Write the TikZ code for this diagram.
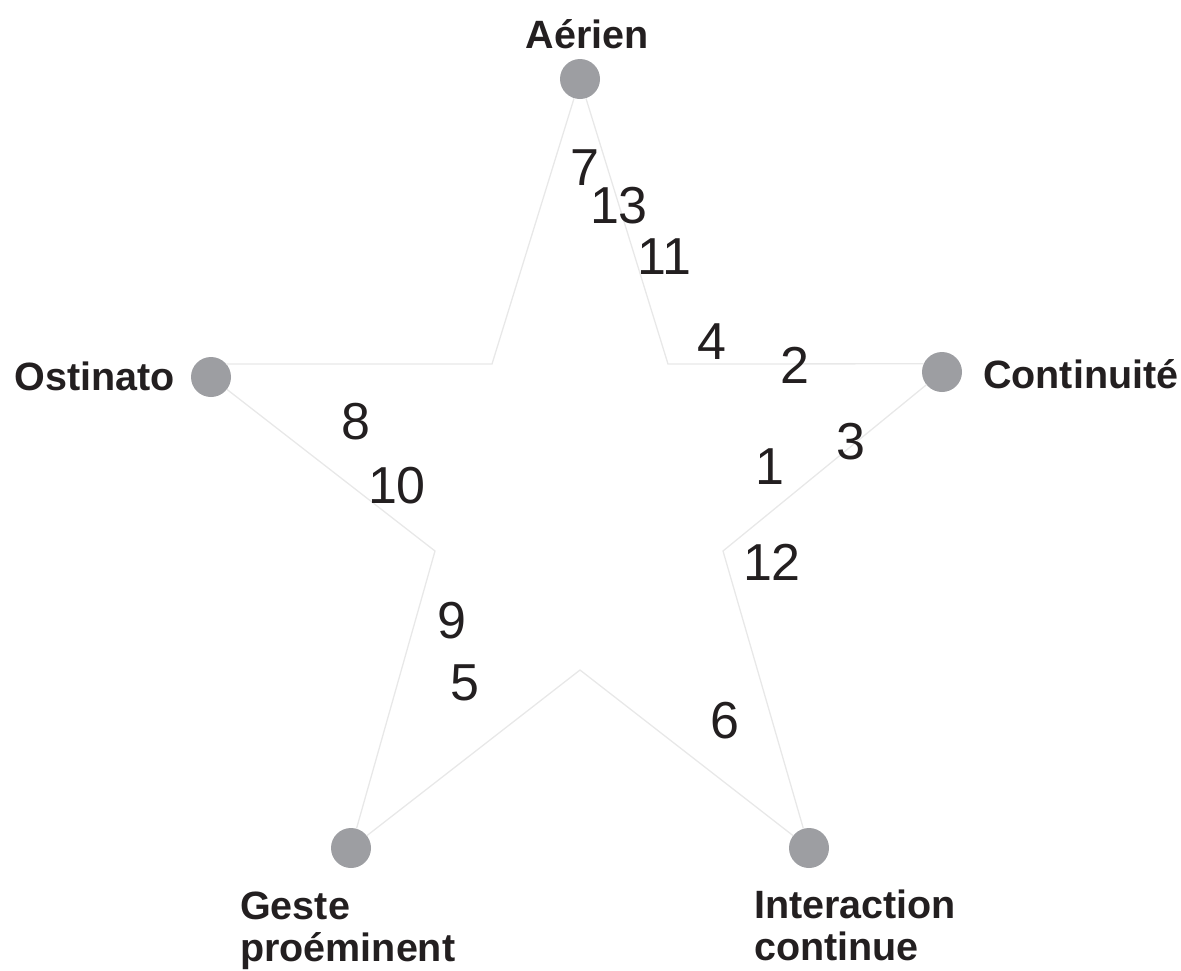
\documentclass[tikz,border=0pt]{standalone}
\usepackage{fontspec}
\setmainfont{Liberation Sans}
\usetikzlibrary{positioning,calc}
\definecolor{dotgrey}{RGB}{157,158,162}
\definecolor{edgegrey}{RGB}{232,232,232}
\definecolor{txtdark}{RGB}{35,31,32}
\tikzset{
  pole/.style={circle,fill=dotgrey,minimum size=40pt,inner sep=0pt},
  edge/.style={draw=edgegrey,line width=1.3pt,line join=miter},
  polelbl/.style={font=\bfseries\fontsize{39.5}{42}\selectfont,text=txtdark,
                  inner sep=0pt,align=left},
  num/.style={font=\fontsize{52}{60}\selectfont,text=txtdark,inner sep=0pt},
}
\begin{document}
\begin{tikzpicture}[x=1pt,y=-1pt]
\useasboundingbox (0,0) rectangle (1181,970);

% outer points of the star
\node[pole] (aer) at (580,79) {};
\node[pole] (con) at (942,372) {};
\node[pole] (int) at (809,848) {};
\node[pole] (ges) at (351,848) {};
\node[pole] (ost) at (211,377) {};

% inner corners
\coordinate (ia) at (492,364);
\coordinate (ib) at (668,364);
\coordinate (ic) at (723,551);
\coordinate (id) at (580,670);
\coordinate (ie) at (435,551);

\draw[edge] (aer) -- (ib) -- (con.156);
\draw[edge] (con) -- (ic) -- (int);
\draw[edge] (int) -- (id) -- (ges);
\draw[edge] (ges) -- (ie) -- (ost);
\draw[edge] (ost.40) -- (ia) -- (aer);

\node[polelbl,anchor=base] (laer) at (587,48) {Aérien};
\node[polelbl,anchor=base west] (lcon) at (983,388) {Continuité};
\node[polelbl,anchor=base east] (lost) at (175,390) {Ostinato};
\node[polelbl,anchor=base west] (lges) at (240,961) {Geste\\proéminent};
\node[polelbl,anchor=base west] (lint) at (754,960) {Interaction\\continue};

% case numbers
\foreach \n/\x/\y in {7/585/168,13/619/206,11/664/257,4/712/342,2/795/365,
                      3/851/442,1/770/467,12/772/562,8/356/422,10/397/486,
                      9/452/621,5/465/683,6/725/721}
  \node[num] (n\n) at (\x,\y) {\n};

\end{tikzpicture}
\end{document}
